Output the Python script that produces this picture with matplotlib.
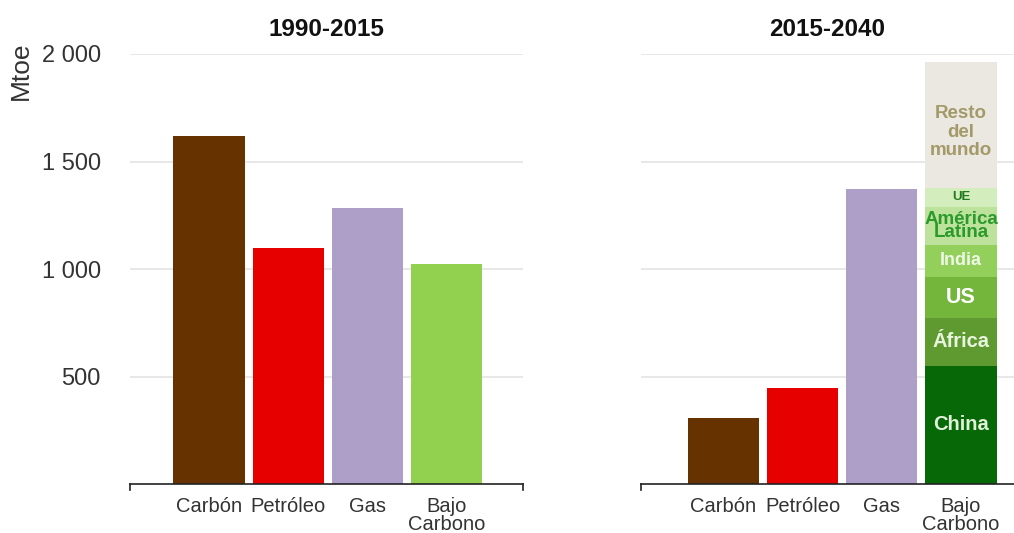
import matplotlib
matplotlib.use("Agg")
import matplotlib.pyplot as plt
import numpy as np

plt.rcParams['font.family'] = ['Liberation Sans', 'DejaVu Sans']

# ---- data ----
categories = ["Carbón", "Petróleo", "Gas", "Bajo\nCarbono"]
values_1990_2015 = [1617, 1100, 1286, 1025]
values_2015_2040 = [308, 447, 1370]          # Carbón, Petróleo, Gas
low_carbon_regions = ["China", "África", "US", "India", "América\nLatina", "UE", "Resto\ndel\nmundo"]
low_carbon_values = [549, 224, 191, 149, 177, 88, 587]
yticks = [500, 1000, 1500, 2000]
ytick_labels = ["500", "1 000", "1 500", "2 000"]
titles = ["1990-2015", "2015-2040"]

# ---- styles ----
bar_colors = ["#663300", "#e60000", "#ae9fc9", "#92d050"]
region_colors = ["#066806", "#5f9a31", "#74b53b", "#93cf5b", "#bde29b", "#d4edbd", "#ebe8e1"]
region_text_colors = ["#e2f1da", "#eaf5e0", "#ffffff", "#eef7e6", "#2b9a2b", "#1f7a1f", "#a39a69"]
region_font_sizes = [14.5, 14.5, 15.5, 13, 13.5, 9.5, 13.5]
region_linespacing = [1.0, 1.0, 1.0, 1.0, 0.68, 1.0, 1.12]
region_y_offsets = [0, 0, 0, 0, 0, 0, -35]

W, H = 1014, 533
fig = plt.figure(figsize=(W / 100, H / 100), dpi=100)

def px_axes(x0, x1, ytop, ybot):
    return fig.add_axes([x0 / W, 1 - ybot / H, (x1 - x0) / W, (ybot - ytop) / H])

ax1 = px_axes(130, 523, 54, 484)
ax2 = px_axes(641, 1014, 54, 484)

width = 0.9
x = np.arange(len(categories))

ax1.bar(x, values_1990_2015, width=width, color=bar_colors, zorder=2)
ax2.bar(x[:3], values_2015_2040, width=width, color=bar_colors[:3], zorder=2)

bottom = 0
for name, val, col, tcol, fs, ls, dy in zip(low_carbon_regions, low_carbon_values, region_colors,
                                            region_text_colors, region_font_sizes,
                                            region_linespacing, region_y_offsets):
    ax2.bar(x[3], val, width=width, bottom=bottom, color=col, zorder=2)
    ax2.text(x[3], bottom + val / 2 + dy, name, ha="center", va="center", color=tcol,
             fontsize=fs, fontweight="bold", linespacing=ls, zorder=3)
    bottom += val

for ax, title, xl in ((ax1, titles[0], (-1.0, 3.97)), (ax2, titles[1], (-1.04, 3.67))):
    ax.set_ylim(0, 2000)
    ax.set_xlim(*xl)
    ax.set_yticks(yticks)
    ax.yaxis.grid(True, color="#e2e2e2", linewidth=1.1, zorder=0)
    ax.set_axisbelow(True)
    for s in ("top", "right", "left"):
        ax.spines[s].set_visible(False)
    ax.spines["bottom"].set_color("#222222")
    ax.spines["bottom"].set_linewidth(1.2)
    ax.set_xticks(x)
    ax.set_xticklabels(categories, fontsize=14.5, color="#333333", linespacing=0.95)
    ax.tick_params(axis="x", length=0, pad=9)
    ax.tick_params(axis="y", length=0)
    ax.set_title(title, fontsize=17.5, fontweight="bold", color="#111111", pad=13)
    # small end ticks on the baseline
    ax.plot([0, 0], [0, -0.014], transform=ax.transAxes, color="#222222", lw=1.2, clip_on=False)
    if ax is ax1:
        ax.plot([1, 1], [0, -0.014], transform=ax.transAxes, color="#222222", lw=1.2, clip_on=False)

ax1.set_yticklabels(ytick_labels, fontsize=17, color="#333333")
ax1.tick_params(axis="y", pad=21)
ax2.set_yticklabels([])

fig.text(21 / W, 1 - 42 / H, "Mtoe", rotation=90, ha="center", va="top", fontsize=19, color="#333333")

fig.savefig("out.png", dpi=100, facecolor="white")
